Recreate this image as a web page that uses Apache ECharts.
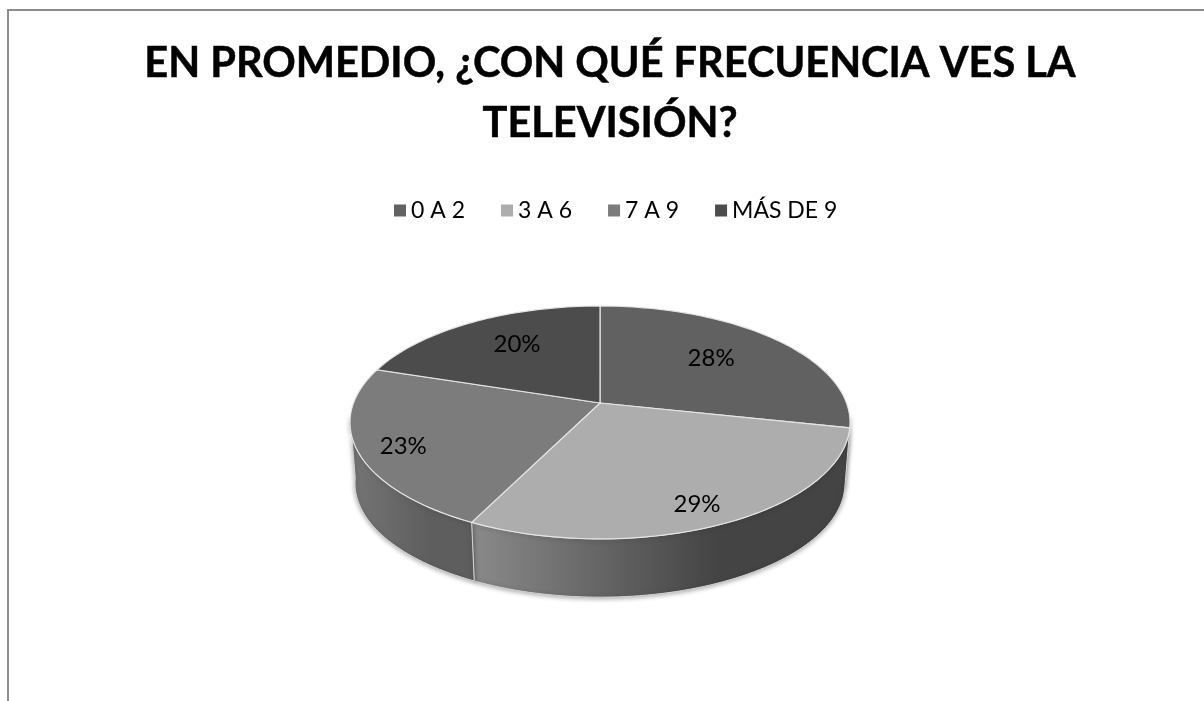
<!DOCTYPE html>
<html>
<head>
<meta charset="utf-8">
<style>html,body{margin:0;padding:0;background:#fff}#main{width:1204px;height:701px}</style>
<script src="https://cdn.jsdelivr.net/npm/echarts@6/dist/echarts.min.js"></script>
</head>
<body>
<div id="main"></div>
<script>
var titleText = 'EN PROMEDIO, ¿CON QUÉ FRECUENCIA VES LA\nTELEVISIÓN?';
var categories = ['0 A 2', '3 A 6', '7 A 9', 'MÁS DE 9'];
// read from the slice edges, the labels round these
var values = [28.4, 28.9, 22.7, 20];
var colors = ['#616161', '#adadad', '#7c7c7c', '#4c4c4c'];

// side wall shading for each slice, left to right
var sideStops = [
    ['#444444', '#444444'],
    ['#8a8a8a', '#444444'],
    ['#757575', '#5e5e5e'],
    ['#444444', '#444444']
];
// where each % label sits between apex and rim (x, y fraction)
var labelFrac = [[0.64, 0.69], [0.77, 0.84], [0.81, 0.93], [0.65, 0.73]];

// flat perspective of the pie: apex, radius, squash, tilt, wall offset
var apexX = 600, apexY = 403, R = 246.5, Rb = 113.2, tilt = 0.167;
var wallDrop = 61, wallScale = 0.98;
var sideFrom = 97, sideTo = 263;

var total = values.reduce(function (a, b) { return a + b; }, 0);

function rimPoint(deg, fx, fy) {
    var t = deg * Math.PI / 180;
    var u = Math.sin(t), v = -Math.cos(t);
    var s = 1 / (1 - tilt * v);
    return [apexX + R * u * s * (fx === undefined ? 1 : fx),
            apexY + Rb * v * s * (fy === undefined ? 1 : fy)];
}
function wallPoint(deg) {
    var p = rimPoint(deg);
    return [apexX + (p[0] - apexX) * wallScale,
            apexY + wallDrop + (p[1] - apexY) * wallScale];
}
function arc(from, to, fn) {
    var pts = [], n = Math.max(2, Math.ceil(Math.abs(to - from) / 1.5));
    for (var i = 0; i <= n; i++) {
        pts.push(fn(from + (to - from) * i / n));
    }
    return pts;
}

function sliceRenderer(idx) {
    return function (params, api) {
        var start = 0;
        for (var i = 0; i < idx; i++) start += values[i];
        var a0 = start / total * 360;
        var a1 = a0 + api.value(0) / total * 360;
        var kids = [];

        var s0 = Math.max(a0, sideFrom), s1 = Math.min(a1, sideTo);
        if (s1 > s0) {
            var wall = arc(s0, s1, rimPoint).concat(arc(s1, s0, wallPoint));
            var xs = wall.map(function (p) { return p[0]; });
            kids.push({
                type: 'polygon',
                z2: 1,
                shape: { points: wall },
                style: {
                    fill: new echarts.graphic.LinearGradient(
                        Math.min.apply(null, xs), 0, Math.max.apply(null, xs), 0,
                        [
                            { offset: 0, color: sideStops[idx][0] },
                            { offset: 0.65, color: sideStops[idx][1] },
                            { offset: 1, color: sideStops[idx][1] }
                        ], true),
                    stroke: '#d4d4d4',
                    lineWidth: 1,
                    shadowBlur: 5,
                    shadowOffsetY: 1,
                    shadowColor: 'rgba(0,0,0,0.35)'
                }
            });
        }

        kids.push({
            type: 'polygon',
            z2: 10,
            shape: { points: [[apexX, apexY]].concat(arc(a0, a1, rimPoint)) },
            style: { fill: colors[idx], stroke: '#e4e4e4', lineWidth: 1.2 }
        });

        var mid = rimPoint((a0 + a1) / 2, labelFrac[idx][0], labelFrac[idx][1]);
        kids.push({
            type: 'text',
            z2: 20,
            style: {
                text: Math.round(api.value(0) / total * 100) + '%',
                x: mid[0], y: mid[1],
                align: 'center', verticalAlign: 'middle',
                font: '24px Lato', fill: '#000'
            }
        });
        return { type: 'group', children: kids };
    };
}

var myChart = echarts.init(document.getElementById('main'), null, { renderer: 'canvas' });
var option = {
    animation: false,
    title: {
        text: titleText,
        left: 605,
        top: 29,
        textAlign: 'center',
        textStyle: { fontFamily: 'Lato', fontWeight: 'bold', fontSize: 41.5, lineHeight: 60, color: '#000', textBorderColor: '#000', textBorderWidth: 0.5 }
    },
    legend: {
        data: categories,
        left: 394,
        top: 199,
        padding: 0,
        icon: 'rect',
        itemWidth: 12,
        itemHeight: 12,
        itemGap: 36,
        textStyle: { fontFamily: 'Lato', fontSize: 23, color: '#000' }
    },
    graphic: [
        { type: 'line', shape: { x1: 8, y1: 10, x2: 1204, y2: 10 }, style: { stroke: '#8c8c8c', lineWidth: 2 } },
        { type: 'line', shape: { x1: 8, y1: 9, x2: 8, y2: 701 }, style: { stroke: '#8c8c8c', lineWidth: 2 } }
    ],
    series: categories.map(function (name, i) {
        return {
            type: 'custom',
            name: name,
            coordinateSystem: 'none',
            silent: true,
            itemStyle: { color: colors[i] },
            renderItem: sliceRenderer(i),
            data: [values[i]]
        };
    })
};
myChart.setOption(option);
</script>
</body>
</html>
